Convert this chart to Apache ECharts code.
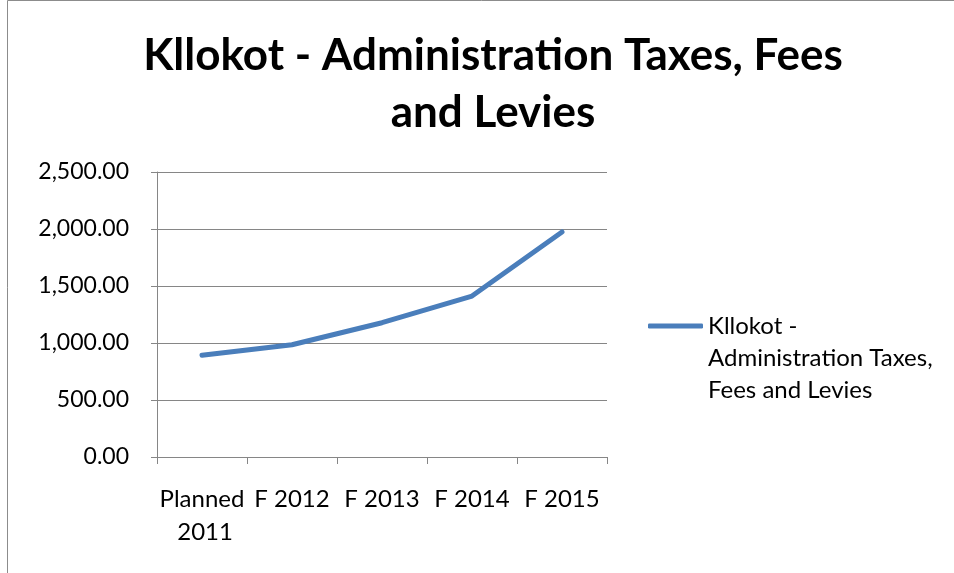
<!DOCTYPE html>
<html>
<head>
<meta charset="utf-8">
<script src="https://cdn.jsdelivr.net/npm/echarts@6/dist/echarts.min.js"></script>
<style>
html,body{margin:0;padding:0;background:#fff;}
#chart{width:954px;height:573px;}
</style>
</head>
<body>
<div id="chart"></div>
<script>
const categories = ["Planned 2011", "F 2012", "F 2013", "F 2014", "F 2015"];
const values = [892, 985, 1178, 1412, 1974];
const seriesName = "Kllokot - Administration Taxes, Fees and Levies";
const yTicks = { min: 0, max: 2500, interval: 500 };

const chart = echarts.init(document.getElementById('chart'), null, { renderer: 'canvas' });
const FONT = 'Lato';
const gridColor = '#868686';

chart.setOption({
  animation: false,
  backgroundColor: '#ffffff',
  graphic: [{
    type: 'rect',
    shape: { x: 7.5, y: 0.5, width: 1200, height: 800 },
    style: { fill: 'none', stroke: '#8c8c8c', lineWidth: 1 },
    silent: true
  }],
  title: {
    text: 'Kllokot - Administration Taxes, Fees\nand Levies',
    left: 488,
    top: 22,
    textAlign: 'center',
    textStyle: { fontFamily: FONT, fontWeight: 'bold', fontSize: 44, lineHeight: 57, color: '#000' }
  },
  legend: {
    left: 648,
    top: 246,
    padding: 0,
    itemWidth: 55,
    itemHeight: 5,
    itemGap: 0,
    icon: 'roundRect',
    data: [seriesName],
    formatter: () => '\n\nKllokot -\nAdministration Taxes,\nFees and Levies',
    textStyle: { fontFamily: FONT, fontSize: 24, lineHeight: 32, color: '#000' }
  },
  grid: { left: 157, right: 347, top: 172, bottom: 116, containLabel: false },
  xAxis: {
    type: 'category',
    data: categories,
    boundaryGap: true,
    axisLine: { show: true, lineStyle: { color: gridColor, width: 1 } },
    axisTick: { show: true, length: 7, interval: 0, lineStyle: { color: gridColor } },
    axisLabel: {
      interval: 0,
      margin: 26,
      fontFamily: FONT,
      fontSize: 24,
      lineHeight: 33,
      color: '#000',
      width: 90,
      overflow: 'break'
    },
    splitLine: { show: false }
  },
  yAxis: {
    type: 'value',
    min: yTicks.min,
    max: yTicks.max,
    interval: yTicks.interval,
    axisLine: { show: true, lineStyle: { color: gridColor, width: 1 } },
    axisTick: { show: true, length: 6, lineStyle: { color: gridColor } },
    axisLabel: {
      margin: 28,
      fontFamily: FONT,
      fontSize: 23,
      color: '#000',
      formatter: v => v.toLocaleString('en-US', { minimumFractionDigits: 2, maximumFractionDigits: 2 })
    },
    splitLine: { show: true, lineStyle: { color: gridColor, width: 1 } }
  },
  series: [{
    name: seriesName,
    type: 'line',
    data: values,
    symbol: 'none',
    lineStyle: { color: '#4a7ebb', width: 5, cap: 'round', join: 'round' },
    itemStyle: { color: '#4a7ebb' }
  }]
});
</script>
</body>
</html>
